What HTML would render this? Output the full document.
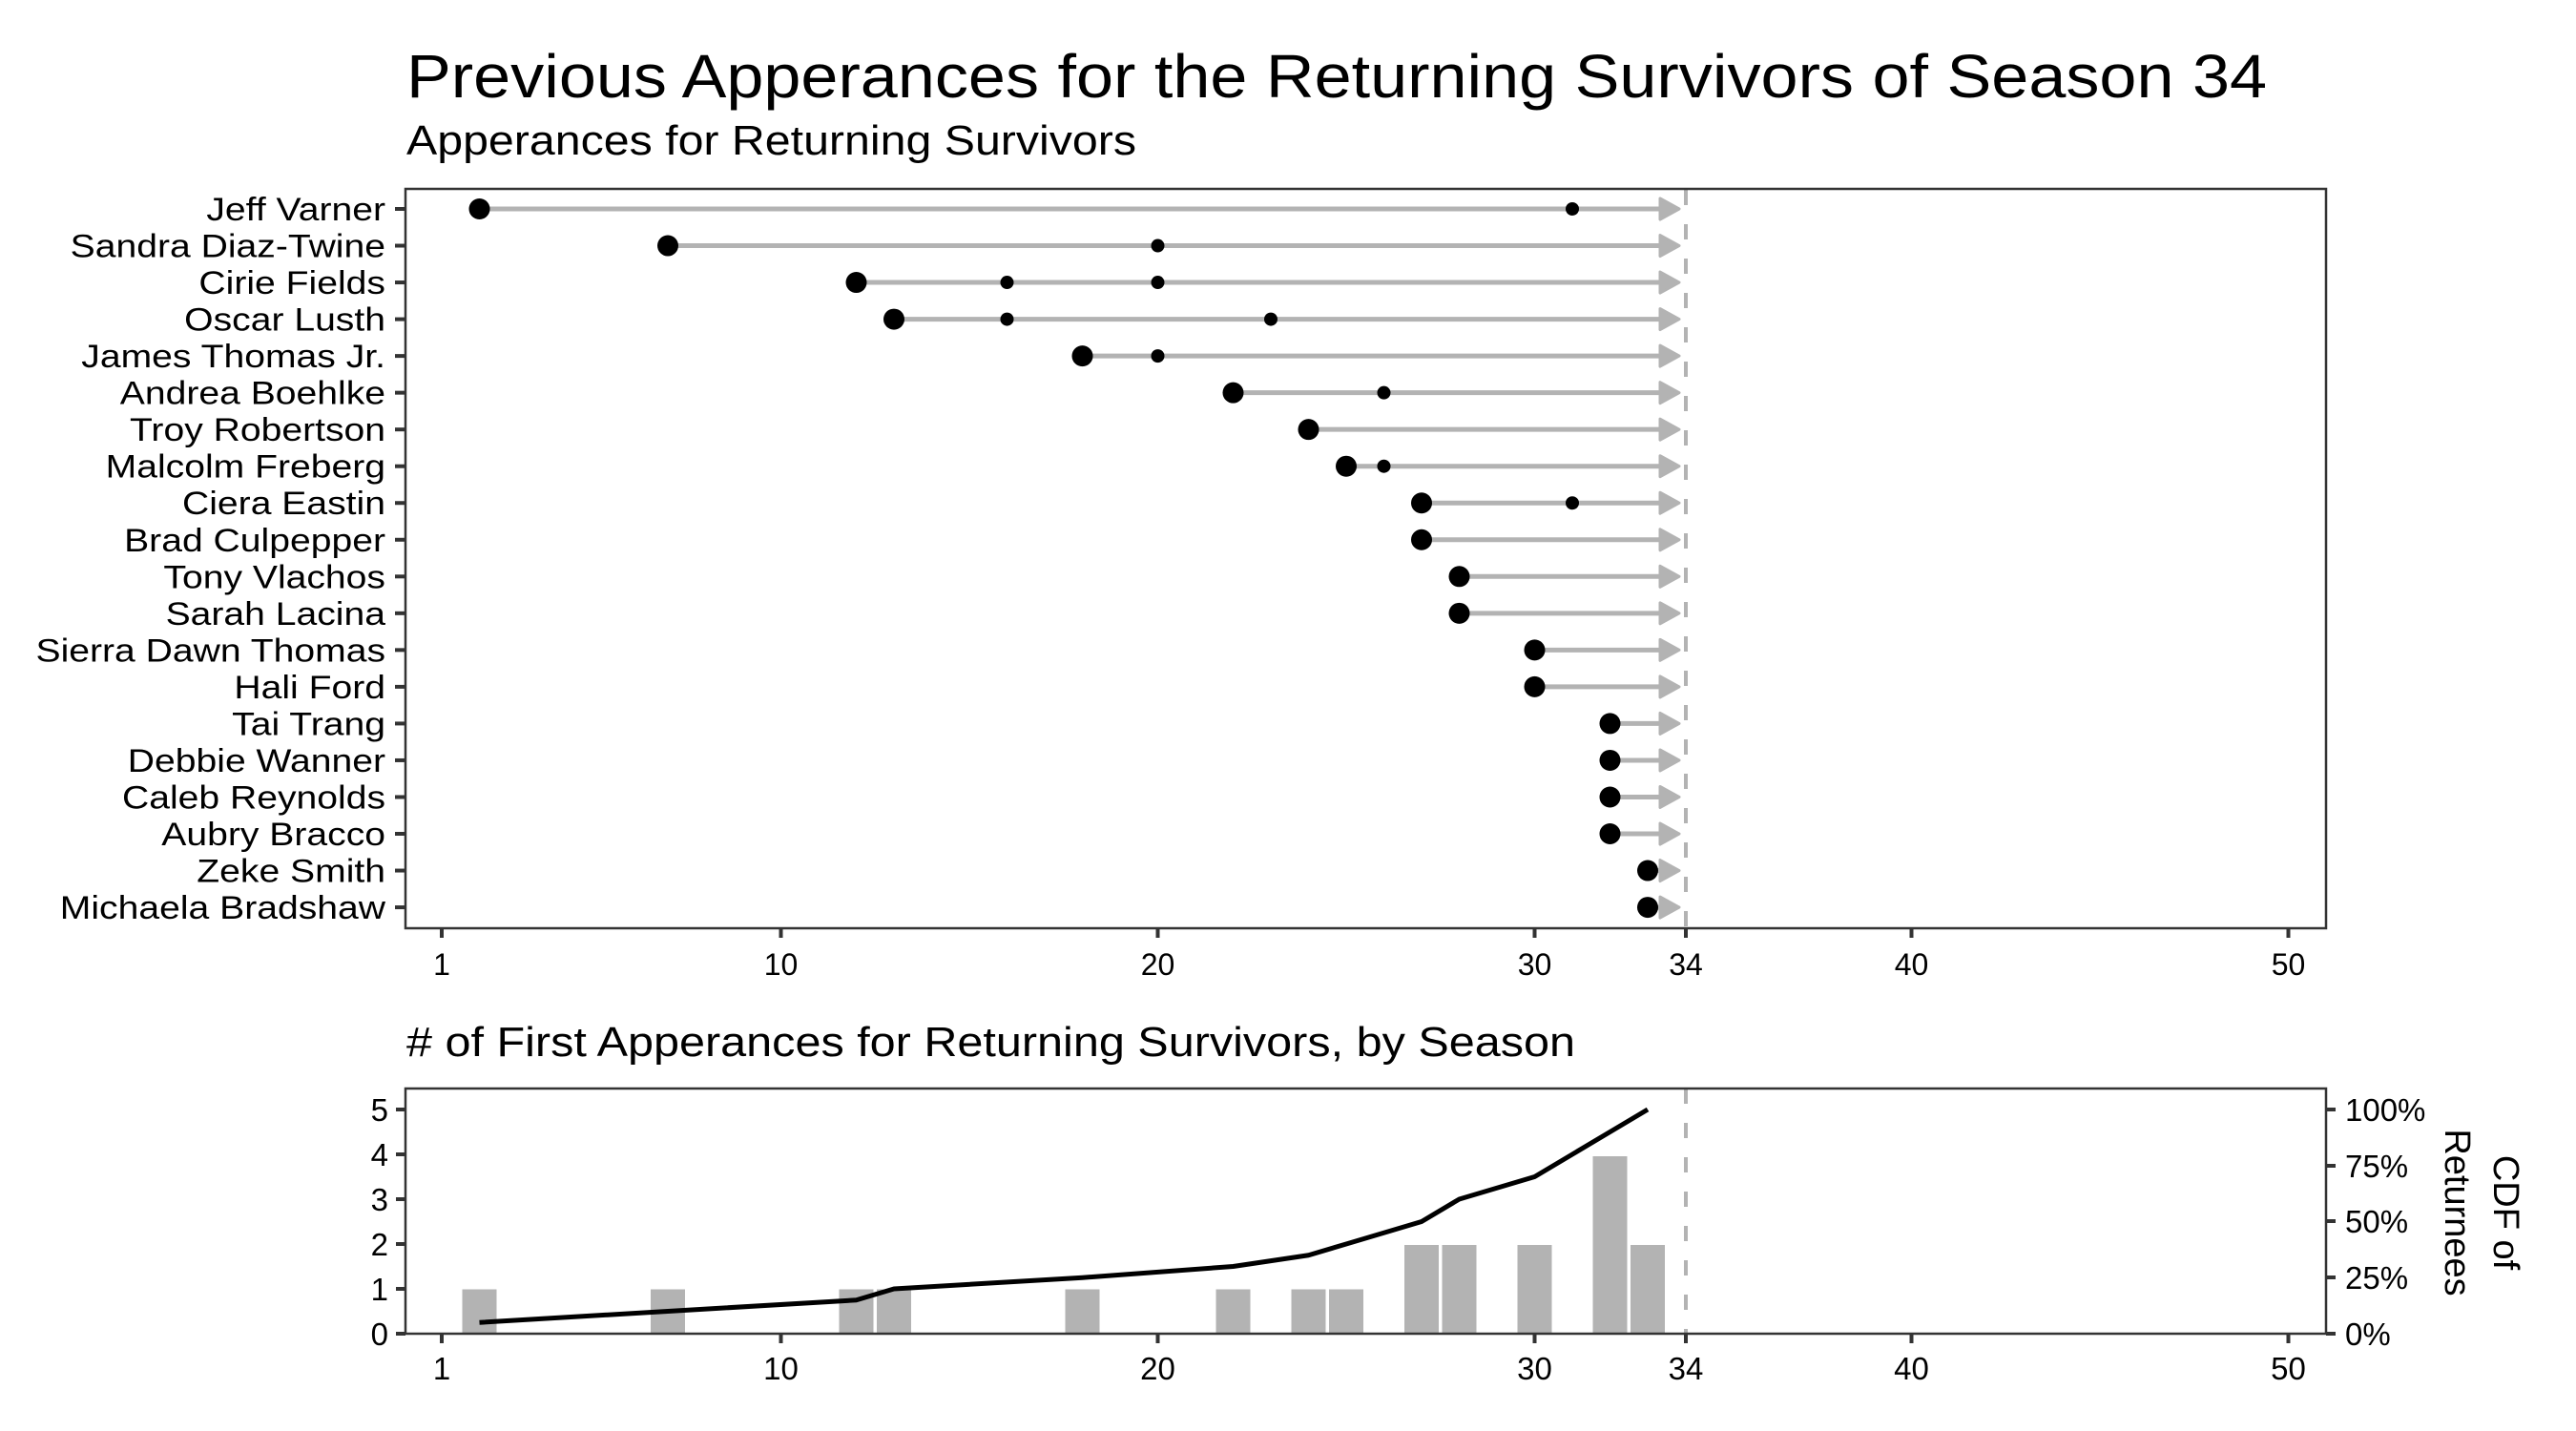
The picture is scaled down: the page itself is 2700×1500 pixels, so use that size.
<!DOCTYPE html>
<html><head><meta charset="utf-8"><style>html,body{margin:0;padding:0;background:#fff}svg{display:block}</style></head><body>
<svg width="2700" height="1500" viewBox="0 0 2700 1500" xmlns="http://www.w3.org/2000/svg" font-family="Liberation Sans, DejaVu Sans, sans-serif">
<rect width="2700" height="1500" fill="#fff"/>
<text x="426" y="102" font-size="64" textLength="1950" lengthAdjust="spacingAndGlyphs">Previous Apperances for the Returning Survivors of Season 34</text>
<text x="426" y="162" font-size="44" textLength="765" lengthAdjust="spacingAndGlyphs">Apperances for Returning Survivors</text>
<line x1="1767" y1="199" x2="1767" y2="973" stroke="#b3b3b3" stroke-width="4" stroke-dasharray="16,20"/>
<g id="segs"></g>
<rect x="425" y="198" width="2013" height="775" fill="none" stroke="#333" stroke-width="2.5"/>
<g font-size="32" text-anchor="middle" fill="#000">
<text x="463" y="1022">1</text><text x="818.5" y="1022">10</text><text x="1213.5" y="1022">20</text><text x="1608.5" y="1022">30</text><text x="1767" y="1022">34</text><text x="2003.5" y="1022">40</text><text x="2398.5" y="1022">50</text>
</g>
<g stroke="#333" stroke-width="4">
<line x1="463" y1="973" x2="463" y2="983"/><line x1="818.5" y1="973" x2="818.5" y2="983"/><line x1="1213.5" y1="973" x2="1213.5" y2="983"/><line x1="1608.5" y1="973" x2="1608.5" y2="983"/><line x1="1767" y1="973" x2="1767" y2="983"/><line x1="2003.5" y1="973" x2="2003.5" y2="983"/><line x1="2398.5" y1="973" x2="2398.5" y2="983"/>
</g>

<text x="426" y="1107" font-size="44" textLength="1225" lengthAdjust="spacingAndGlyphs"># of First Apperances for Returning Survivors, by Season</text>
<g fill="#b3b3b3">
<rect x="484.5" y="1351.5" width="36" height="46.5"/>
<rect x="682" y="1351.5" width="36" height="46.5"/>
<rect x="879.5" y="1351.5" width="36" height="46.5"/>
<rect x="919" y="1351.5" width="36" height="46.5"/>
<rect x="1116.5" y="1351.5" width="36" height="46.5"/>
<rect x="1274.5" y="1351.5" width="36" height="46.5"/>
<rect x="1353.5" y="1351.5" width="36" height="46.5"/>
<rect x="1393" y="1351.5" width="36" height="46.5"/>
<rect x="1472" y="1305" width="36" height="93"/>
<rect x="1511.5" y="1305" width="36" height="93"/>
<rect x="1590.5" y="1305" width="36" height="93"/>
<rect x="1669.5" y="1212" width="36" height="186"/>
<rect x="1709" y="1305" width="36" height="93"/>
</g>
<line x1="1767" y1="1141" x2="1767" y2="1398" stroke="#b3b3b3" stroke-width="4" stroke-dasharray="16,20"/>
<polyline fill="none" stroke="#000" stroke-width="5" stroke-linejoin="round" points="502.5,1386.25 700,1374.5 897.5,1362.75 937,1351 1134.5,1339.25 1292.5,1327.5 1371.5,1315.75 1411,1304 1490,1280.5 1529.5,1257 1608.5,1233.5 1687.5,1186.5 1727,1163"/>
<rect x="425" y="1141" width="2013" height="257" fill="none" stroke="#333" stroke-width="2.5"/>
<g stroke="#333" stroke-width="4">
<line x1="463" y1="1398" x2="463" y2="1408"/><line x1="818.5" y1="1398" x2="818.5" y2="1408"/><line x1="1213.5" y1="1398" x2="1213.5" y2="1408"/><line x1="1608.5" y1="1398" x2="1608.5" y2="1408"/><line x1="1767" y1="1398" x2="1767" y2="1408"/><line x1="2003.5" y1="1398" x2="2003.5" y2="1408"/><line x1="2398.5" y1="1398" x2="2398.5" y2="1408"/>
<line x1="415" y1="1398" x2="425" y2="1398"/><line x1="415" y1="1351" x2="425" y2="1351"/><line x1="415" y1="1304" x2="425" y2="1304"/><line x1="415" y1="1257" x2="425" y2="1257"/><line x1="415" y1="1210" x2="425" y2="1210"/><line x1="415" y1="1163" x2="425" y2="1163"/>
<line x1="2438" y1="1398" x2="2448" y2="1398"/><line x1="2438" y1="1339" x2="2448" y2="1339"/><line x1="2438" y1="1280" x2="2448" y2="1280"/><line x1="2438" y1="1222" x2="2448" y2="1222"/><line x1="2438" y1="1163" x2="2448" y2="1163"/>
</g>
<g font-size="33" text-anchor="middle">
<text x="463" y="1446">1</text><text x="818.5" y="1446">10</text><text x="1213.5" y="1446">20</text><text x="1608.5" y="1446">30</text><text x="1767" y="1446">34</text><text x="2003.5" y="1446">40</text><text x="2398.5" y="1446">50</text>
</g>
<g font-size="33" text-anchor="end">
<text x="407" y="1410">0</text><text x="407" y="1363">1</text><text x="407" y="1316">2</text><text x="407" y="1269">3</text><text x="407" y="1222">4</text><text x="407" y="1175">5</text>
</g>
<g font-size="33">
<text x="2458" y="1410">0%</text><text x="2458" y="1351">25%</text><text x="2458" y="1292">50%</text><text x="2458" y="1234">75%</text><text x="2458" y="1175">100%</text>
</g>
<g font-size="38" text-anchor="middle">
<text transform="translate(2614,1271) rotate(90)">CDF of</text>
<text transform="translate(2563,1271) rotate(90)">Returnees</text>
</g>

<script>
(function(){
var rows=[["Jeff Varner",2,[31]],["Sandra Diaz-Twine",7,[20]],["Cirie Fields",12,[16,20]],["Oscar Lusth",13,[16,23]],["James Thomas Jr.",18,[20]],["Andrea Boehlke",22,[26]],["Troy Robertson",24,[]],["Malcolm Freberg",25,[26]],["Ciera Eastin",27,[31]],["Brad Culpepper",27,[]],["Tony Vlachos",28,[]],["Sarah Lacina",28,[]],["Sierra Dawn Thomas",30,[]],["Hali Ford",30,[]],["Tai Trang",32,[]],["Debbie Wanner",32,[]],["Caleb Reynolds",32,[]],["Aubry Bracco",32,[]],["Zeke Smith",33,[]],["Michaela Bradshaw",33,[]]];
var ns="http://www.w3.org/2000/svg",g=document.getElementById("segs");
function X(s){return 463+(s-1)*39.5;}
function el(t,a,txt){var e=document.createElementNS(ns,t);for(var k in a)e.setAttribute(k,a[k]);if(txt)e.textContent=txt;g.appendChild(e);return e;}
rows.forEach(function(r,i){var y=219+i*38.53;
el("line",{x1:X(r[1]),y1:y,x2:1745,y2:y,stroke:"#b3b3b3","stroke-width":5});
el("polygon",{points:"1740,"+(y-11)+" 1760,"+y+" 1740,"+(y+11),fill:"#b3b3b3",stroke:"#b3b3b3","stroke-width":3,"stroke-linejoin":"round"});
r[2].forEach(function(s){el("circle",{cx:X(s),cy:y,r:7,fill:"#000"});});
el("circle",{cx:X(r[1]),cy:y,r:11,fill:"#000"});
el("line",{x1:414,y1:y,x2:424,y2:y,stroke:"#333","stroke-width":4});
var t=el("text",{x:404,y:y+12,"font-size":34,"text-anchor":"end"},r[0]);
try{var w=t.getComputedTextLength();t.setAttribute("textLength",(w*1.15).toFixed(1));t.setAttribute("lengthAdjust","spacingAndGlyphs");}catch(e){}
});
})();
</script>
</svg>
</body></html>
